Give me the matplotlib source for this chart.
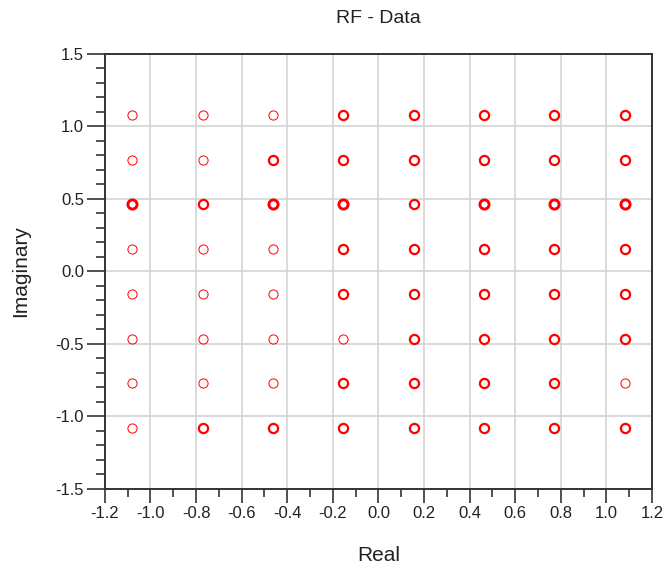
import numpy as np
import matplotlib
matplotlib.use("Agg")
import matplotlib.pyplot as plt
from matplotlib.ticker import MultipleLocator

# 64-QAM constellation levels (real and imaginary)
levels_re = [-1.08, -0.771, -0.463, -0.154, 0.154, 0.463, 0.771, 1.08]
levels_im = [1.08, 0.771, 0.463, 0.154, -0.154, -0.463, -0.771, -1.08]

# how many symbols landed on each point (rows follow levels_im, cols levels_re)
hits = [
    [1, 1, 1, 2, 2, 2, 2, 2],
    [1, 1, 2, 2, 2, 2, 2, 2],
    [3, 2, 3, 3, 2, 3, 3, 3],
    [1, 1, 1, 2, 2, 2, 2, 2],
    [1, 1, 1, 2, 2, 2, 2, 2],
    [1, 1, 1, 1, 2, 2, 2, 2],
    [1, 1, 1, 2, 2, 2, 2, 1],
    [1, 2, 2, 2, 2, 2, 2, 2],
]

plt.rcParams['font.family'] = ['Liberation Sans', 'DejaVu Sans']

fig = plt.figure(figsize=(6.68, 5.78), dpi=100)
ax = fig.add_axes([0.157, 0.154, 0.819, 0.753])

widths = {1: 0.7, 2: 1.6, 3: 2.1}
for i, yv in enumerate(levels_im):
    for j, xv in enumerate(levels_re):
        ax.plot(xv, yv, 'o', markersize=6.6, markerfacecolor='none',
                markeredgecolor='red', markeredgewidth=widths[hits[i][j]], zorder=3)

ax.set_xlim(-1.2, 1.2)
ax.set_ylim(-1.5, 1.5)
ax.xaxis.set_major_locator(MultipleLocator(0.2))
ax.xaxis.set_minor_locator(MultipleLocator(0.1))
ax.yaxis.set_major_locator(MultipleLocator(0.5))
ax.yaxis.set_minor_locator(MultipleLocator(0.1))
ax.xaxis.set_major_formatter(plt.FuncFormatter(lambda v, p: '%.1f' % v if abs(v) > 1e-9 else '0.0'))
ax.yaxis.set_major_formatter(plt.FuncFormatter(lambda v, p: '%.1f' % v if abs(v) > 1e-9 else '0.0'))

ax.grid(True, which='major', color='#d4d4d4', linewidth=1.2, zorder=0)
ax.set_axisbelow(True)

ax.tick_params(axis='x', which='major', direction='out', length=10, width=1.2,
               color='#333333', labelsize=12, pad=2, labelcolor='#222222')
ax.tick_params(axis='x', which='minor', direction='out', length=6, width=1.2, color='#333333')
ax.tick_params(axis='y', which='major', direction='out', length=13, width=1.2,
               color='#333333', labelsize=12, pad=2, labelcolor='#222222')
ax.tick_params(axis='y', which='minor', direction='out', length=6.5, width=1.2, color='#333333')

for s in ax.spines.values():
    s.set_color('#333333')
    s.set_linewidth(1.4)

ax.set_title('RF - Data', fontsize=14, pad=22, color='#222222')
ax.set_xlabel('Real', fontsize=15, labelpad=18, color='#222222')
ax.set_ylabel('Imaginary', fontsize=15, labelpad=18, color='#222222')

fig.savefig('out.png', dpi=100)
